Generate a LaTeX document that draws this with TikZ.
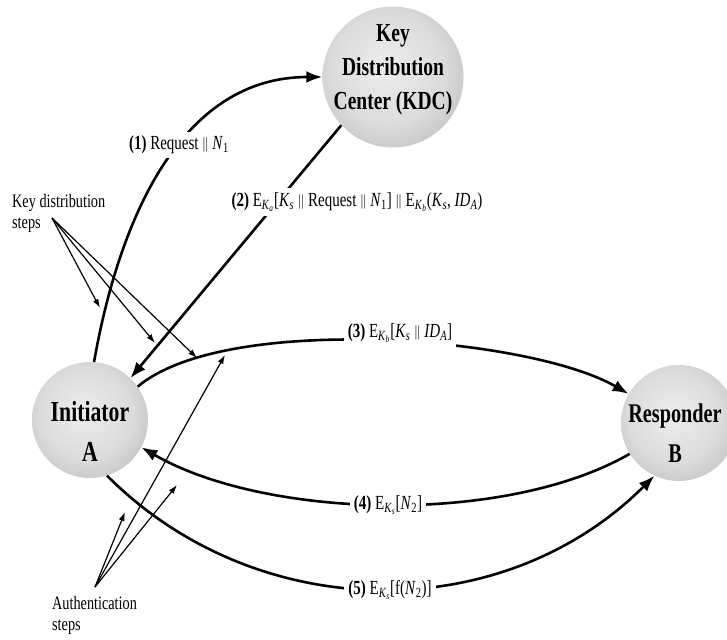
\documentclass[tikz,border=0pt]{standalone}
\usepackage{fontspec}
\setmainfont{Liberation Serif}[FakeStretch=0.75]
\usepackage{tikz}
\usetikzlibrary{arrows.meta}
\pgfdeclareradialshading{orb}{\pgfpoint{-3bp}{4bp}}{color(0bp)=(black!7); color(20bp)=(black!14); color(38bp)=(black!30); color(50bp)=(black!45); color(60bp)=(black!50)}
\newcommand{\enc}[1]{E\textsubscript{\textit{K}\textsubscript{\textit{#1}}}}
\newcommand{\dbar}{\,\raisebox{1pt}{\fontsize{15}{15}\selectfont$\|$}\,}
\newcommand{\nonce}[1]{\textit{N}\textsubscript{#1}}
\newcommand{\sess}{\textit{K}\textsubscript{\textit{s}}}
\newcommand{\idA}{\textit{ID}\textsubscript{\textit{A}}}
\tikzset{
    party/.style    = {circle, shading=orb, inner sep=0pt, minimum size=116pt},
    centre/.style   = {party, minimum size=141pt},
    partytext/.style= {font=\fontsize{29}{40}\selectfont\bfseries, align=center, inner sep=0pt},
    centretext/.style= {font=\fontsize{26}{34}\selectfont\bfseries, align=center, inner sep=0pt},
    msg/.style      = {-{Latex[length=16pt,width=12pt]}, line width=2.6pt},
    msglabel/.style = {fill=white, font=\fontsize{20}{24}\selectfont, inner sep=4pt},
    note/.style     = {font=\fontsize{19}{21}\selectfont, align=left, inner sep=0pt},
    pointer/.style  = {-{Latex[length=9pt,width=6pt]}, line width=1.2pt}
}

\begin{document}
\begin{tikzpicture}[x=1pt, y=1pt]
    \useasboundingbox (0,0) rectangle (727,-639);
    \clip (0,0) rectangle (727,-639);

    \node[centre, label={[centretext, yshift=7pt]center:Key\\Distribution\\Center (KDC)}] (kdc) at (393,-77) {};
    \node[party, label={[partytext, yshift=-11pt]center:Initiator\\A}] (ini) at (90,-420) {};
    \node[party, label={[partytext, font=\fontsize{27}{40}\selectfont\bfseries, xshift=-4pt, yshift=-10pt]center:Responder\\B}] (res) at (679,-423) {};

    \draw[msg] (ini.86) to[out=80, in=180] (kdc.180);
    \draw[msg] (kdc.223) -- (ini.46);
    \draw[msg] (ini.35) to[out=40, in=150, looseness=0.6] (res.150);
    \draw[msg] (res.212) to[out=210, in=-30, looseness=0.75] (ini.-28);
    \draw[msg] (ini.287) to[out=-45, in=225] (res.245);

    \node[msglabel] (m1) at (179,-145) {\textbf{(1)} Request\dbar\nonce{1}};
    \node[msglabel] (m2) at (357,-202) {\textbf{(2)} \enc{a}[\sess\dbar Request\dbar\nonce{1}]\dbar\enc{b}(\sess, \idA)};
    \node[msglabel] (m3) at (400,-333) {\textbf{(3)} \enc{b}[\sess\dbar\idA]};
    \node[msglabel] (m4) at (388,-505) {\textbf{(4)} \enc{s}[\nonce{2}]};
    \node[msglabel] (m5) at (390,-590) {\textbf{(5)} \enc{s}[f(\nonce{2})]};

    \node[note, anchor=north west] (kdnote) at (12,-194) {Key distribution\\steps};
    \node[note, anchor=north west] (aunote) at (52,-596) {Authentication\\steps};

    \coordinate (kdsrc) at (52,-218);
    \coordinate (kd1) at (100,-308);
    \coordinate (kd2) at (155,-343);
    \coordinate (kd3) at (197,-358);
    \coordinate (ausrc) at (95,-587);
    \coordinate (au1) at (125,-512);
    \coordinate (au2) at (177,-485);
    \coordinate (au3) at (225,-355);

    \foreach \t in {kd1, kd2, kd3}
        \draw[pointer] (kdsrc) -- (\t);
    \foreach \t in {au1, au2, au3}
        \draw[pointer] (ausrc) -- (\t);
\end{tikzpicture}
\end{document}
